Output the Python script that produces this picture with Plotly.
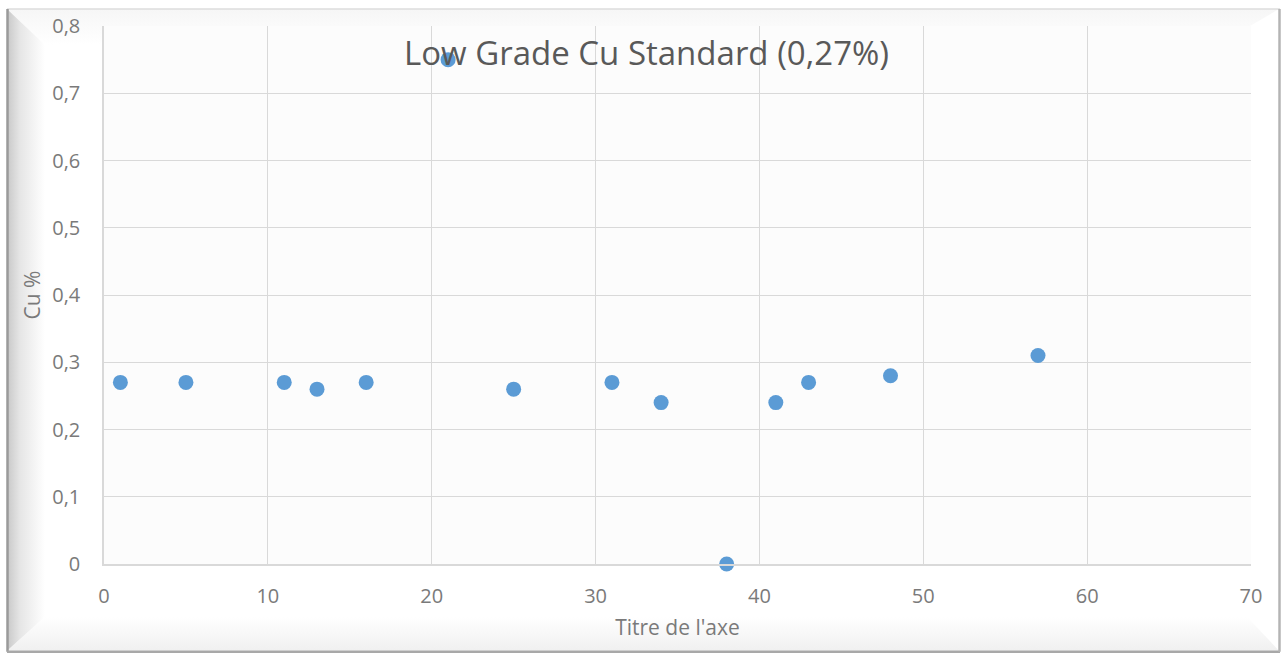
import base64
import plotly.graph_objects as go

# Sample number vs measured Cu grade
sample_no = [1, 5, 11, 13, 16, 21, 25, 31, 34, 38, 41, 43, 48, 57]
cu_pct = [0.27, 0.27, 0.27, 0.26, 0.27, 0.75, 0.26, 0.27, 0.24, 0.0, 0.24, 0.27, 0.28, 0.31]

y_tick_vals = [0, 0.1, 0.2, 0.3, 0.4, 0.5, 0.6, 0.7, 0.8]
y_tick_text = ["0", "0,1", "0,2", "0,3", "0,4", "0,5", "0,6", "0,7", "0,8"]
x_tick_vals = [0, 10, 20, 30, 40, 50, 60, 70]

W, H = 1283, 654
L, R, T, B = 104, 1251, 24, 564
PW, PH = R - L, B - T

# Bevelled frame drawn as an SVG backdrop
frame_svg = f"""<svg xmlns='http://www.w3.org/2000/svg' width='{W}' height='{H}' viewBox='0 0 {W} {H}'>
<defs>
<linearGradient id='lg' x1='0' y1='0' x2='1' y2='0'>
<stop offset='0' stop-color='#c8c8c8'/><stop offset='0.35' stop-color='#e6e6e6'/><stop offset='1' stop-color='#ffffff'/>
</linearGradient>
<linearGradient id='bg' x1='0' y1='0' x2='0' y2='1'>
<stop offset='0' stop-color='#ffffff'/><stop offset='1' stop-color='#f0f0f0'/>
</linearGradient>
<linearGradient id='tg' x1='0' y1='0' x2='0' y2='1'>
<stop offset='0' stop-color='#f6f6f6'/><stop offset='1' stop-color='#ffffff'/>
</linearGradient>
</defs>
<rect x='0' y='0' width='{W}' height='{H}' fill='#ffffff'/>
<polygon points='7,7 1279,7 1250,24 45,43' fill='url(#tg)'/>
<polygon points='7,651 45,617 1247,617 1279,651' fill='url(#bg)'/>
<polygon points='7,7 45,43 45,617 7,651' fill='url(#lg)'/>
<line x1='7' y1='7' x2='1280' y2='7' stroke='#dcdcdc' stroke-width='1.5'/>
<line x1='7.5' y1='7' x2='7.5' y2='652' stroke='#9a9a9a' stroke-width='2.5'/>
<line x1='7' y1='652' x2='1280' y2='652' stroke='#a8a8a8' stroke-width='2.5'/>
<line x1='1279.5' y1='7' x2='1279.5' y2='652' stroke='#b4b4b4' stroke-width='2.5'/>
<rect x='{L}' y='{T}' width='{PW}' height='{PH}' fill='#fcfcfc'/>
</svg>"""
frame_src = "data:image/svg+xml;base64," + base64.b64encode(frame_svg.encode()).decode()

fig = go.Figure()
fig.add_trace(go.Scatter(
    x=sample_no, y=cu_pct, mode="markers", cliponaxis=False,
    marker=dict(color="#5b9bd5", size=15, line=dict(width=0)),
    hoverinfo="x+y", showlegend=False,
))

title_color = "#595959"
tick_color = "#7a7a7a"
font_family = "Open Sans, Noto Sans, sans-serif"

fig.update_layout(
    width=W, height=H,
    margin=dict(l=L, r=W - R, t=T, b=H - B, pad=0),
    paper_bgcolor="white", plot_bgcolor="rgba(0,0,0,0)",
    font=dict(family=font_family, color=tick_color, size=20),
    images=[dict(
        source=frame_src, xref="paper", yref="paper",
        x=-L / PW, y=1 + T / PH, sizex=W / PW, sizey=H / PH,
        xanchor="left", yanchor="top", sizing="stretch", layer="below",
    )],
    annotations=[dict(
        text="Low Grade Cu Standard (0,27%)", xref="paper", yref="paper",
        x=(646 - L) / PW, y=(B - 51) / PH, xanchor="center", yanchor="middle",
        showarrow=False, font=dict(size=33, color=title_color, family=font_family),
    )],
)

fig.update_xaxes(
    range=[0, 70], tickvals=x_tick_vals, showgrid=True, gridcolor="#d9d9d9", gridwidth=1,
    zeroline=False, showline=True, linecolor="#d9d9d9", linewidth=1.5,
    ticks="", ticklen=0, ticklabelstandoff=13, tickfont=dict(size=20, color=tick_color),
    title=dict(text="Titre de l'axe", font=dict(size=21, color=tick_color), standoff=13),
)
fig.update_yaxes(
    range=[0, 0.8], tickvals=y_tick_vals, ticktext=y_tick_text, showgrid=True,
    gridcolor="#d9d9d9", gridwidth=1, zeroline=False, showline=True,
    linecolor="#d9d9d9", linewidth=1.5, ticks="", ticklen=0, ticklabelstandoff=18,
    tickfont=dict(size=20, color=tick_color),
    title=dict(text="Cu %", font=dict(size=21, color=tick_color), standoff=6),
)

fig.write_html("out.html")
